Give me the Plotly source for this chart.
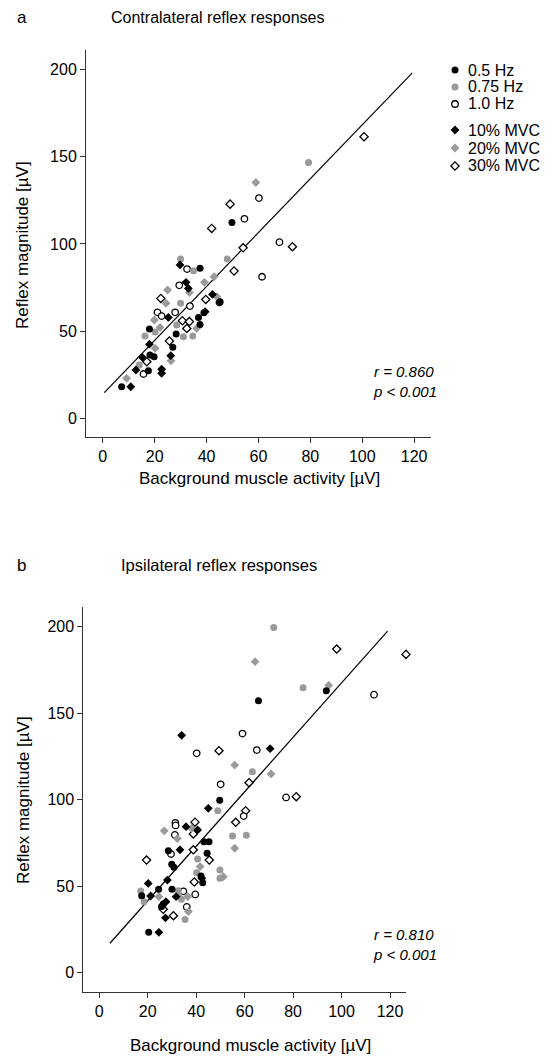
import plotly.graph_objects as go

# ---- panel a: contralateral reflex responses (x = background, y = reflex, µV)
a_hz05_x = [49.8, 37.5, 45.2, 39.0, 36.9, 37.5, 28.3, 18.0, 27.0, 18.2, 19.8, 17.6, 7.3]
a_hz05_y = [112.3, 86.0, 66.9, 60.6, 57.9, 53.9, 48.4, 51.3, 40.8, 36.4, 35.4, 27.4, 18.2]
a_hz075_x = [79.3, 48.0, 30.0, 35.0, 30.0, 28.5, 31.1, 34.7, 20.2, 16.3, 14.1]
a_hz075_y = [146.6, 91.3, 91.3, 84.7, 66.0, 53.5, 46.9, 47.3, 49.5, 47.3, 30.6]
a_hz10_x = [60.2, 54.6, 68.1, 61.4, 32.5, 29.5, 33.6, 27.9, 21.1, 22.7, 45.0, 15.7]
a_hz10_y = [126.3, 114.4, 101.0, 81.2, 85.6, 76.3, 64.4, 60.8, 60.8, 58.7, 66.5, 25.5]
a_mvc10_x = [29.8, 32.1, 42.3, 25.3, 39.5, 18.0, 15.3, 26.2, 12.8, 22.7, 22.7, 10.8, 33.0]
a_mvc10_y = [88.0, 78.0, 71.1, 57.9, 61.2, 42.6, 35.0, 36.0, 27.8, 28.2, 25.9, 18.2, 74.5]
a_mvc20_x = [59.0, 39.2, 42.9, 44.0, 33.4, 25.0, 24.4, 19.9, 36.2, 22.1, 20.2, 26.3, 9.2]
a_mvc20_y = [135.2, 78.0, 81.2, 69.8, 72.2, 73.6, 66.0, 56.4, 51.6, 52.2, 40.2, 33.1, 23.0]
a_mvc30_x = [100.7, 49.1, 42.0, 54.1, 73.1, 50.6, 39.7, 22.4, 30.7, 33.4, 32.4, 25.7, 17.0]
a_mvc30_y = [161.4, 122.8, 108.9, 97.8, 98.4, 84.5, 68.2, 68.8, 56.0, 55.5, 51.6, 44.4, 32.5]
a_fit_x = [0.6, 119.3]
a_fit_y = [14.8, 198.0]
a_stats = "r = 0.860<br>p < 0.001"

# ---- panel b: ipsilateral reflex responses
b_hz05_x = [65.7, 93.7, 49.7, 43.2, 45.3, 28.5, 44.5, 29.9, 30.8, 42.0, 42.7, 24.5, 30.0, 17.5, 26.4, 25.7, 20.4]
b_hz05_y = [157.2, 163.0, 99.6, 75.7, 75.7, 70.4, 69.0, 62.6, 60.9, 55.8, 52.0, 48.2, 48.2, 44.5, 39.7, 38.2, 23.3]
b_hz075_x = [72.0, 84.1, 63.2, 48.9, 55.0, 60.7, 40.6, 40.2, 49.8, 49.8, 32.6, 17.1, 33.9, 18.5, 35.4]
b_hz075_y = [199.6, 164.7, 116.1, 93.6, 79.0, 79.4, 65.7, 57.8, 59.3, 54.5, 47.4, 47.2, 42.4, 41.0, 30.7]
b_hz10_x = [113.4, 59.1, 40.2, 65.0, 50.1, 77.1, 59.6, 31.4, 31.5, 31.2, 29.6, 34.7, 39.6, 36.1]
b_hz10_y = [160.7, 138.2, 126.8, 128.7, 108.9, 101.3, 90.5, 86.6, 85.1, 79.6, 68.6, 47.0, 45.2, 38.0]
b_mvc10_x = [34.0, 70.5, 45.0, 35.8, 40.6, 33.3, 28.1, 42.3, 20.2, 21.2, 31.7, 27.5, 27.3, 24.6]
b_mvc10_y = [137.2, 129.5, 95.0, 84.4, 82.5, 71.0, 53.5, 54.5, 51.6, 44.3, 43.9, 41.0, 31.7, 23.3]
b_mvc20_x = [64.3, 94.7, 55.9, 70.9, 38.1, 26.8, 32.2, 55.9, 41.6, 51.2, 32.6, 24.6, 36.5, 36.8]
b_mvc20_y = [179.8, 166.1, 120.0, 114.9, 83.4, 82.0, 77.5, 71.9, 61.3, 55.5, 45.0, 43.9, 43.9, 35.3]
b_mvc30_x = [126.6, 98.0, 49.4, 61.8, 81.3, 60.4, 56.3, 39.5, 38.8, 38.8, 19.5, 45.4, 39.2, 26.4, 30.6]
b_mvc30_y = [184.0, 187.1, 128.3, 109.8, 101.7, 93.6, 86.9, 87.0, 80.2, 71.0, 65.1, 65.1, 52.4, 36.6, 32.9]
b_fit_x = [4.4, 119.0]
b_fit_y = [17.0, 197.5]
b_stats = "r = 0.810<br>p < 0.001"

legend_labels = ["0.5 Hz", "0.75 Hz", "1.0 Hz", "10% MVC", "20% MVC", "30% MVC"]
x_ticks = [0, 20, 40, 60, 80, 100, 120]
y_ticks = [0, 50, 100, 150, 200]

W, H = 556, 1057
FONT = "Arial, Liberation Sans, Helvetica, sans-serif"
GRAY = "#9a9a9a"

styles = {
    "0.5 Hz": dict(symbol="circle", size=7, color="black", line=dict(width=0)),
    "0.75 Hz": dict(symbol="circle", size=7, color=GRAY, line=dict(width=0)),
    "1.0 Hz": dict(symbol="circle", size=6.5, color="white", line=dict(color="black", width=1.3)),
    "10% MVC": dict(symbol="diamond", size=6.8, color="black", line=dict(width=0)),
    "20% MVC": dict(symbol="diamond", size=6.8, color=GRAY, line=dict(width=0)),
    "30% MVC": dict(symbol="diamond", size=6.3, color="white", line=dict(color="black", width=1.3)),
}


def px(x, y):
    return x / W, 1 - y / H


fig = go.Figure()

panels = [
    ("x", "y", [(a_mvc30_x, a_mvc30_y), (a_hz10_x, a_hz10_y), (a_mvc20_x, a_mvc20_y),
                (a_hz075_x, a_hz075_y), (a_mvc10_x, a_mvc10_y), (a_hz05_x, a_hz05_y)],
     a_fit_x, a_fit_y),
    ("x2", "y2", [(b_mvc30_x, b_mvc30_y), (b_hz10_x, b_hz10_y), (b_mvc20_x, b_mvc20_y),
                  (b_hz075_x, b_hz075_y), (b_mvc10_x, b_mvc10_y), (b_hz05_x, b_hz05_y)],
     b_fit_x, b_fit_y),
]
draw_order = ["30% MVC", "1.0 Hz", "20% MVC", "0.75 Hz", "10% MVC", "0.5 Hz"]

for xa, ya, groups, fx, fy in panels:
    fig.add_trace(go.Scatter(x=fx, y=fy, mode="lines", xaxis=xa, yaxis=ya,
                             line=dict(color="black", width=1.2), showlegend=False))
    for name, (gx, gy) in zip(draw_order, groups):
        fig.add_trace(go.Scatter(x=gx, y=gy, mode="markers", name=name, xaxis=xa, yaxis=ya,
                                 marker=styles[name], cliponaxis=False, showlegend=False))

axis_common = dict(showgrid=False, zeroline=False, showline=True, linecolor="#333333",
                   linewidth=1, ticks="outside", ticklen=5, tickwidth=1, tickcolor="#333333",
                   tickfont=dict(family=FONT, size=16, color="black"))

fig.update_layout(
    width=W, height=H,
    margin=dict(l=0, r=0, t=0, b=0),
    paper_bgcolor="white", plot_bgcolor="white",
    showlegend=False,
    xaxis=dict(domain=[86 / W, 431 / W], range=[-6.44, 126.5], tickvals=x_ticks,
               anchor="y", **axis_common),
    yaxis=dict(domain=[1 - 437 / H, 1 - 50 / H], range=[-10.6, 211.1], tickvals=y_ticks,
               anchor="x", **axis_common),
    xaxis2=dict(domain=[83.3 / W, 406 / W], range=[-6.6, 126.6], tickvals=x_ticks,
                anchor="y2", **axis_common),
    yaxis2=dict(domain=[1 - 992 / H, 1 - 607 / H], range=[-11.2, 211.4], tickvals=y_ticks,
                anchor="x2", **axis_common),
)


def note(text, x, y, size=16, xanchor="center", angle=0, italic=False, align="left"):
    ax, ay = px(x, y)
    fig.add_annotation(text=text, x=ax, y=ay, xref="paper", yref="paper", showarrow=False,
                       xanchor=xanchor, yanchor="middle", textangle=angle, align=align,
                       borderpad=0,
                       font=dict(family=FONT, size=size, color="black",
                                 style="italic" if italic else "normal"))


# panel labels and titles
note("a", 22, 18, size=17)
note("Contralateral reflex responses", 110, 18, size=16, xanchor="left")
note("b", 21, 565, size=17)
note("Ipsilateral reflex responses", 120, 565, size=16.5, xanchor="left")

# axis titles
note("Reflex magnitude [µV]", 23, 245, size=17, angle=-90)
note("Background muscle activity [µV]", 259, 478, size=17)
note("Reflex magnitude [µV]", 23, 800, size=17, angle=-90)
note("Background muscle activity [µV]", 250, 1045, size=17)

# correlation stats
note(a_stats, 372, 382, size=15, xanchor="left", italic=True)
note(b_stats, 372, 944, size=15, xanchor="left", italic=True)

# legend (panel a), drawn as shapes + text
legend_rows = [70, 87, 104, 130, 148, 166]
for label, ry in zip(legend_labels, legend_rows):
    st = styles[label]
    lx, ly = px(455, ry)
    line = st["line"]
    lc = line.get("color", st["color"])
    lw = line.get("width", 0)
    if st["symbol"] == "circle":
        r = st["size"] / 2
        fig.add_shape(type="circle", xref="paper", yref="paper", xsizemode="pixel",
                      ysizemode="pixel", xanchor=lx, yanchor=ly, x0=-r, x1=r, y0=-r, y1=r,
                      fillcolor=st["color"], line=dict(color=lc, width=lw))
    else:
        d = st["size"] * 0.65
        fig.add_shape(type="path", xref="paper", yref="paper", xsizemode="pixel",
                      ysizemode="pixel", xanchor=lx, yanchor=ly,
                      path=f"M0,{d} L{d},0 L0,{-d} L{-d},0 Z",
                      fillcolor=st["color"], line=dict(color=lc, width=lw))
    note(label, 467, ry, size=16, xanchor="left")

# page body has a default 8px margin; drop it so the figure sits at the window origin
fig.write_html("out.html", config={"displayModeBar": False},
               post_script="document.body.style.margin='0';document.body.style.overflow='hidden';")
